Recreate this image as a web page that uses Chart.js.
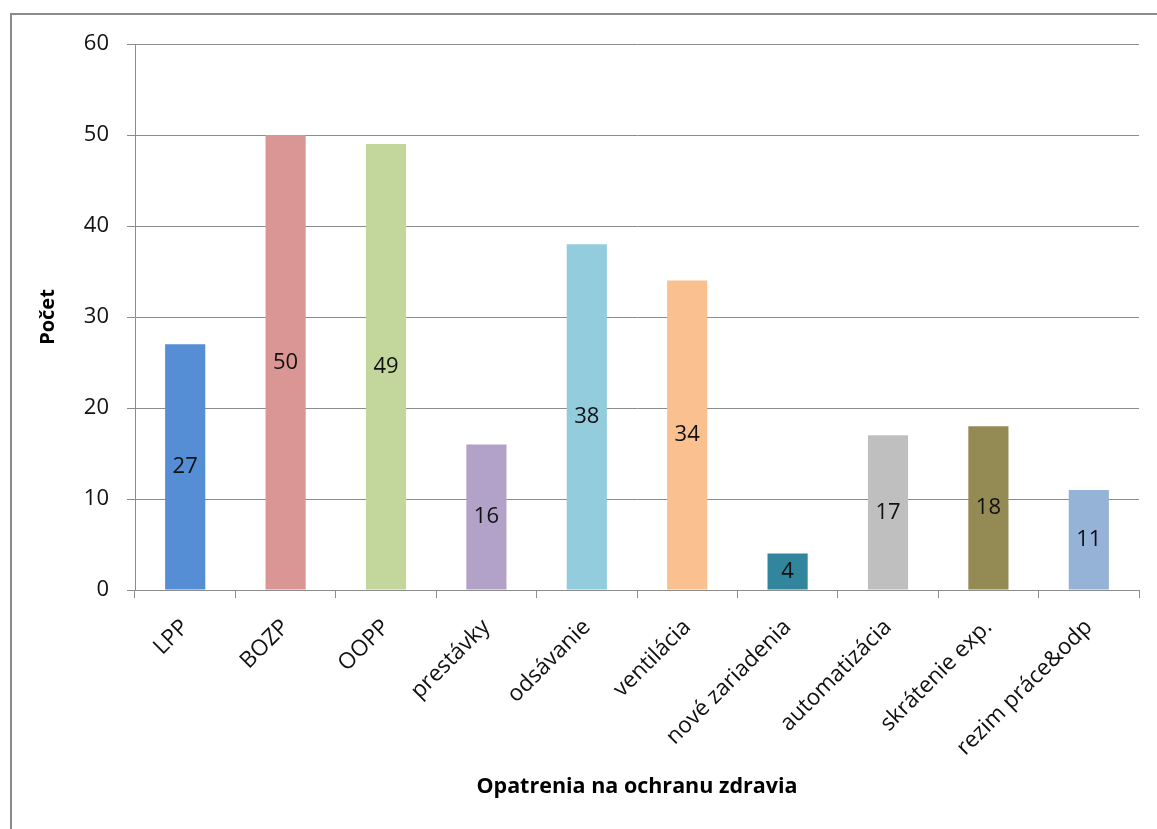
<!DOCTYPE html>
<html>
<head>
<meta charset="utf-8">
<script src="https://cdn.jsdelivr.net/npm/chart.js@4/dist/chart.umd.min.js"></script>
<style>
html,body{margin:0;padding:0;background:#fff;}
#wrap{position:relative;width:1157px;height:829px;overflow:hidden;}
#frame{position:absolute;left:10px;top:13px;width:1200px;height:900px;border-left:2px solid #8a8a8a;border-top:2px solid #8a8a8a;}
canvas{position:absolute;left:0;top:0;}
</style>
</head>
<body>
<div id="wrap">
<div id="frame"></div>
<canvas id="c" width="1157" height="829"></canvas>
</div>
<script>
const categories = ["LPP","BOZP","OOPP","prestávky","odsávanie","ventilácia","nové zariadenia","automatizácia","skrátenie exp.","rezim práce&odp"];
const values = [27,50,49,16,38,34,4,17,18,11];
const barColors = ["#558ED5","#D99694","#C3D69B","#B3A2C7","#93CDDD","#FAC090","#31859C","#BFBFBF","#948A54","#95B3D7"];
const yTitle = "Počet";
const xTitle = "Opatrenia na ochranu zdravia";

const FONT = "'Open Sans', sans-serif";

const valueLabels = {
  id: 'valueLabels',
  afterDatasetsDraw(chart) {
    const ctx = chart.ctx;
    const meta = chart.getDatasetMeta(0);
    ctx.save();
    ctx.font = "22px " + FONT;
    ctx.fillStyle = "#111";
    ctx.textAlign = "center";
    ctx.textBaseline = "middle";
    meta.data.forEach((bar, i) => {
      const p = bar.getProps(['x','y','base'], true);
      ctx.fillText(String(values[i]), p.x, (p.y + p.base) / 2);
    });
    ctx.restore();
  }
};

new Chart(document.getElementById('c'), {
  type: 'bar',
  data: {
    labels: categories,
    datasets: [{
      data: values,
      backgroundColor: barColors,
      borderWidth: 0,
      barPercentage: 0.4,
      categoryPercentage: 1.0
    }]
  },
  options: {
    responsive: false,
    animation: false,
    layout: { padding: { left: 36, right: 18, top: 44, bottom: 29 } },
    plugins: { legend: { display: false }, tooltip: { enabled: false } },
    scales: {
      y: {
        min: 0, max: 60,
        afterFit(s) { s.width = 99; },
        ticks: { stepSize: 10, padding: 18, color: "#111", font: { family: FONT, size: 22 } },
        grid: { color: "#8c8c8c", tickLength: 8, lineWidth: 1 },
        border: { color: "#8c8c8c" },
        title: { display: true, text: yTitle, color: "#000", font: { family: FONT, size: 20, weight: 'bold' }, padding: { top: 0, bottom: 0 } }
      },
      x: {
        afterFit(s) { s.height = 210; },
        ticks: { minRotation: 45, maxRotation: 45, padding: 16, color: "#111", font: { family: FONT, size: 22.5 } },
        grid: { drawOnChartArea: false, color: "#8c8c8c", tickLength: 8, offset: true },
        border: { color: "#8c8c8c" },
        title: { display: true, text: xTitle, color: "#000", font: { family: FONT, size: 21.5, weight: 'bold' }, padding: { top: 0, bottom: 0 } }
      }
    }
  },
  plugins: [valueLabels]
});
</script>
</body>
</html>
